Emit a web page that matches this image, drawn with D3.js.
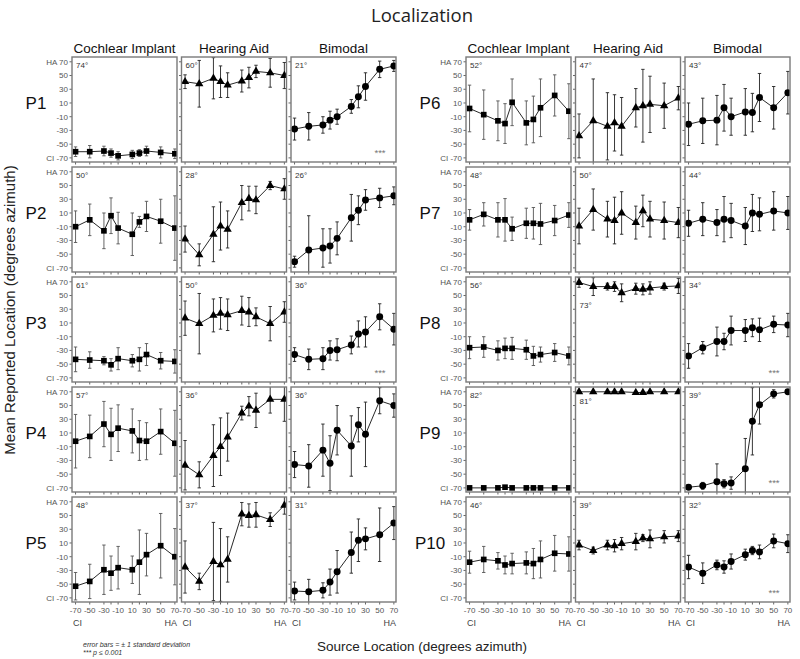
<!DOCTYPE html>
<html>
<head>
<meta charset="utf-8">
<script src="https://cdn.jsdelivr.net/npm/d3@7"></script>
<style>
  body { margin: 0; background: #fff; }
  text { font-family: "Liberation Sans", Arial, sans-serif; }
</style>
</head>
<body>
<div id="chart"></div>
<script>
///////////////////////////////////////////////////////////////////////////
//////////////////////////// data /////////////////////////////////////////
///////////////////////////////////////////////////////////////////////////

const participants = ["P1", "P2", "P3", "P4", "P5", "P6", "P7", "P8", "P9", "P10"];
const conditions = ["Cochlear Implant", "Hearing Aid", "Bimodal"];
const sources = [-70, -50, -30, -20, -10, 10, 20, 30, 50, 70];
const yTickValues = [-70, -50, -30, -10, 10, 30, 50, 70];
const xTickValues = [-70, -50, -30, -10, 10, 30, 50, 70];

// mean reported location per source, one row per participant
const ciMeans = [
	[-61, -61, -60, -63, -67, -65, -63, -60, -62, -64],
	[-10, 0, -16, 6, -12, -21, -3, 5, -2, -12],
	[-43, -44, -45, -51, -42, -45, -43, -36, -45, -46],
	[-2, 5, 23, 8, 17, 13, -1, -2, 12, -5],
	[-53, -46, -29, -34, -26, -29, -18, -7, 6, -10],
	[2, -7, -16, -20, 11, -19, -14, 3, 21, -2],
	[0, 8, 0, 0, -13, -5, -5, -6, -1, 7],
	[-26, -25, -30, -27, -27, -29, -38, -36, -33, -38],
	[-70, -70, -70, -69, -70, -70, -70, -70, -70, -70],
	[-18, -14, -16, -22, -20, -19, -20, -14, -5, -6]
];
const ciSds = [
	[7, 9, 7, 6, 6, 6, 5, 7, 8, 7],
	[23, 23, 26, 26, 23, 31, 8, 22, 32, 47],
	[18, 12, 6, 9, 16, 9, 17, 16, 12, 17],
	[39, 31, 33, 38, 34, 32, 29, 27, 33, 48],
	[20, 25, 36, 25, 31, 20, 47, 31, 47, 41],
	[34, 36, 29, 29, 34, 32, 34, 42, 30, 40],
	[15, 17, 25, 31, 17, 22, 23, 30, 22, 18],
	[16, 15, 14, 15, 16, 14, 14, 11, 13, 13],
	[0, 0, 0, 1, 0, 0, 0, 0, 0, 0],
	[16, 19, 12, 13, 15, 16, 22, 27, 26, 25]
];

const haMeans = [
	[41, 38, 46, 41, 36, 42, 47, 56, 54, 50],
	[-28, -51, -21, -9, -14, 25, 31, 29, 50, 45],
	[17, 9, 21, 24, 22, 28, 26, 19, 9, 26],
	[-37, -51, -23, -10, 4, 39, 49, 43, 59, 59],
	[-25, -46, -17, -22, -14, 52, 50, 51, 44, 65],
	[-38, -16, -24, -19, -24, 3, 6, 8, 6, 17],
	[-9, 15, 1, -1, 10, -4, 13, 1, -1, -4],
	[69, 63, 63, 63, 54, 60, 59, 61, 63, 64],
	[70, 70, 70, 70, 70, 69, 69, 70, 70, 70],
	[7, -1, 7, 6, 9, 12, 17, 16, 19, 20]
];
const haSds = [
	[10, 34, 30, 23, 18, 16, 15, 9, 21, 19],
	[19, 16, 40, 35, 27, 25, 18, 20, 6, 15],
	[25, 44, 24, 23, 23, 21, 21, 13, 25, 15],
	[36, 19, 45, 42, 35, 10, 14, 25, 20, 32],
	[38, 12, 57, 53, 33, 17, 17, 18, 10, 13],
	[32, 61, 49, 41, 42, 28, 53, 41, 33, 17],
	[26, 30, 26, 34, 31, 24, 23, 26, 27, 22],
	[7, 13, 5, 7, 13, 8, 8, 9, 5, 11],
	[0, 0, 0, 0, 0, 1, 1, 0, 0, 0],
	[7, 5, 7, 9, 9, 12, 5, 13, 9, 8]
];

const biMeans = [
	[-28, -24, -22, -15, -10, 5, 19, 34, 59, 64],
	[-61, -44, -41, -38, -27, 3, 14, 29, 32, 35],
	[-36, -43, -42, -30, -29, -22, -6, -3, 19, 1],
	[-36, -38, -15, -34, 14, -9, 22, 8, 57, 50],
	[-60, -61, -59, -47, -32, -4, 14, 16, 22, 39],
	[-21, -16, -15, 3, -10, -3, -4, 18, 3, 25],
	[-5, 1, -4, 1, -1, -9, 10, 8, 13, 10],
	[-38, -26, -17, -17, -1, -1, 3, 0, 8, 7],
	[-69, -67, -61, -64, -63, -42, 27, 51, 67, 70],
	[-25, -34, -22, -25, -17, -7, -1, -3, 13, 9]
];
const biSds = [
	[16, 20, 12, 13, 11, 10, 16, 20, 12, 8],
	[8, 50, 28, 25, 24, 34, 21, 15, 14, 13],
	[10, 15, 16, 14, 16, 13, 19, 22, 19, 23],
	[19, 31, 38, 40, 36, 44, 25, 47, 19, 17],
	[13, 18, 11, 19, 31, 30, 31, 16, 39, 24],
	[31, 33, 36, 34, 27, 34, 28, 35, 31, 31],
	[19, 24, 19, 33, 25, 27, 27, 24, 28, 24],
	[18, 9, 21, 12, 21, 16, 13, 17, 12, 17],
	[0, 5, 26, 6, 9, 44, 49, 28, 6, 0],
	[17, 15, 7, 9, 11, 8, 6, 10, 10, 13]
];

// rms error (degrees) printed in each panel
const ciRms = [74, 50, 61, 57, 48, 52, 48, 56, 82, 46];
const haRms = [60, 28, 50, 36, 37, 47, 50, 73, 81, 39];
const biRms = [21, 26, 36, 36, 31, 43, 44, 34, 39, 32];

// *** p <= 0.001 in the bimodal panel
const significant = [true, false, true, false, false, false, false, true, true, true];

///////////////////////////////////////////////////////////////////////////
//////////////////////////// set up svg ///////////////////////////////////
///////////////////////////////////////////////////////////////////////////

const width = 800;
const height = 659;
const panelW = 105;
const panelH = 105;
const blockLeft = [72, 466];
const colStep = 109.5;
const rowTop = 57;
const rowStep = 110;

const svg = d3
	.select("#chart")
	.append("svg")
	.attr("width", width)
	.attr("height", height);

const xScale = d3.scaleLinear().domain([-75, 73]).range([0, panelW]);
const yScale = d3.scaleLinear().domain([-76, 77]).range([panelH, 0]);

const means = [ciMeans, haMeans, biMeans];
const sds = [ciSds, haSds, biSds];
const rms = [ciRms, haRms, biRms];
const symbols = [d3.symbolSquare, d3.symbolTriangle, d3.symbolCircle];
const symbolSizes = [32, 30, 38];
const barColors = ["#555", "#222", "#222"];

///////////////////////////////////////////////////////////////////////////
//////////////////////////// titles ///////////////////////////////////////
///////////////////////////////////////////////////////////////////////////

svg
	.append("text")
	.attr("x", 422)
	.attr("y", 22)
	.attr("text-anchor", "middle")
	.style("font-family", "'Open Sans', sans-serif")
	.style("font-size", "18.5px")
	.attr("fill", "#222")
	.text("Localization");

blockLeft.forEach((bx) => {
	conditions.forEach((c, ci) => {
		svg
			.append("text")
			.attr("x", bx + ci * colStep + panelW / 2)
			.attr("y", 53)
			.attr("text-anchor", "middle")
			.style("font-size", "13.5px")
			.attr("fill", "#111")
			.text(c);
	});
});

svg
	.append("text")
	.attr("transform", "translate(15,310) rotate(-90)")
	.attr("text-anchor", "middle")
	.style("font-size", "15px")
	.attr("fill", "#222")
	.text("Mean Reported Location (degrees azimuth)");

svg
	.append("text")
	.attr("x", 422)
	.attr("y", 651)
	.attr("text-anchor", "middle")
	.style("font-size", "13.5px")
	.attr("fill", "#222")
	.text("Source Location (degrees azimuth)");

const note = svg
	.append("text")
	.style("font-size", "7px")
	.style("font-style", "italic")
	.attr("fill", "#333");
note.append("tspan").attr("x", 83).attr("y", 647).text("error bars = \u00b1 1 standard deviation");
note.append("tspan").attr("x", 83).attr("y", 655).text("*** p \u2264 0.001");

///////////////////////////////////////////////////////////////////////////
//////////////////////////// panels ///////////////////////////////////////
///////////////////////////////////////////////////////////////////////////

const line = d3
	.line()
	.x((d) => xScale(d.src))
	.y((d) => yScale(d.mean));

participants.forEach((p, pi) => {
	const block = pi < 5 ? 0 : 1;
	const row = pi % 5;
	const top = rowTop + row * rowStep;

	// participant label
	svg
		.append("text")
		.attr("x", blockLeft[block] - 36)
		.attr("y", top + 52)
		.attr("text-anchor", "middle")
		.style("font-size", "17px")
		.attr("fill", "#111")
		.text(p);

	conditions.forEach((c, ci) => {
		const left = blockLeft[block] + ci * colStep;
		const g = svg.append("g").attr("transform", `translate(${left},${top})`);
		const data = sources.map((s, k) => ({
			src: s,
			mean: means[ci][pi][k],
			sd: sds[ci][pi][k]
		}));

		const clipId = `clip-${pi}-${ci}`;
		g.append("clipPath")
			.attr("id", clipId)
			.append("rect")
			.attr("x", 0)
			.attr("y", 0)
			.attr("width", panelW)
			.attr("height", panelH);

		// y ticks (left, outward)
		g.selectAll(".ytick")
			.data(yTickValues)
			.enter()
			.append("line")
			.attr("x1", -2.5)
			.attr("x2", 0)
			.attr("y1", (d) => yScale(d))
			.attr("y2", (d) => yScale(d))
			.attr("stroke", "#666");

		// x ticks (bottom, outward)
		g.selectAll(".xtick")
			.data(sources)
			.enter()
			.append("line")
			.attr("x1", (d) => xScale(d))
			.attr("x2", (d) => xScale(d))
			.attr("y1", panelH)
			.attr("y2", panelH + 2.5)
			.attr("stroke", "#666");

		if (ci === 0) {
			g.selectAll(".ylab")
				.data(yTickValues)
				.enter()
				.append("text")
				.attr("x", -4)
				.attr("y", (d) => yScale(d))
				.attr("dy", "0.35em")
				.attr("text-anchor", "end")
				.style("font-size", "8px")
				.attr("fill", "#555")
				.text((d) => (d === 70 ? "HA 70" : d === -70 ? "CI -70" : d));
		}

		if (row === 4) {
			g.selectAll(".xlab")
				.data(xTickValues)
				.enter()
				.append("text")
				.attr("x", (d) => xScale(d))
				.attr("y", panelH + 11)
				.attr("text-anchor", "middle")
				.style("font-size", "8px")
				.attr("fill", "#555")
				.text((d) => d);
			g.append("text")
				.attr("x", 1)
				.attr("y", panelH + 24)
				.style("font-size", "9px")
				.attr("fill", "#444")
				.text("CI");
			g.append("text")
				.attr("x", panelW)
				.attr("y", panelH + 24)
				.attr("text-anchor", "end")
				.style("font-size", "9px")
				.attr("fill", "#444")
				.text("HA");
		}

		const plot = g.append("g").attr("clip-path", `url(#${clipId})`);

		// error bars
		const bars = plot
			.selectAll(".bar")
			.data(data.filter((d) => d.sd > 0))
			.enter()
			.append("g")
			.attr("stroke", barColors[ci])
			.attr("stroke-width", 0.9);
		bars.append("line")
			.attr("x1", (d) => xScale(d.src))
			.attr("x2", (d) => xScale(d.src))
			.attr("y1", (d) => yScale(d.mean + d.sd))
			.attr("y2", (d) => yScale(d.mean - d.sd));
		[1, -1].forEach((sgn) => {
			bars.append("line")
				.attr("x1", (d) => xScale(d.src) - 1.7)
				.attr("x2", (d) => xScale(d.src) + 1.7)
				.attr("y1", (d) => yScale(d.mean + sgn * d.sd))
				.attr("y2", (d) => yScale(d.mean + sgn * d.sd));
		});

		plot.append("path")
			.datum(data)
			.attr("d", line)
			.attr("fill", "none")
			.attr("stroke", "#111")
			.attr("stroke-width", 0.9);

		plot.selectAll(".dot")
			.data(data)
			.enter()
			.append("path")
			.attr("transform", (d) => `translate(${xScale(d.src)},${yScale(d.mean)})`)
			.attr("d", d3.symbol().type(symbols[ci]).size(symbolSizes[ci]))
			.attr("fill", "#000");

		// panel border
		g.append("rect")
			.attr("width", panelW)
			.attr("height", panelH)
			.attr("fill", "none")
			.attr("stroke", "#7a7a7a")
			.attr("stroke-width", 1.4);

		// rms error label
		let labelY = 11;
		if (pi === 7 && ci === 1) labelY = 31;
		if (pi === 8 && ci === 1) labelY = 17;
		g.append("text")
			.attr("x", 4)
			.attr("y", labelY)
			.style("font-size", "8px")
			.attr("fill", "#333")
			.text(rms[ci][pi] + "\u00b0");

		if (ci === 2 && significant[pi]) {
			g.append("text")
				.attr("x", panelW - 16)
				.attr("y", panelH - 6)
				.attr("text-anchor", "middle")
				.style("font-size", "9.5px")
				.attr("fill", "#777")
				.text("***");
		}
	});
});
</script>
</body>
</html>
